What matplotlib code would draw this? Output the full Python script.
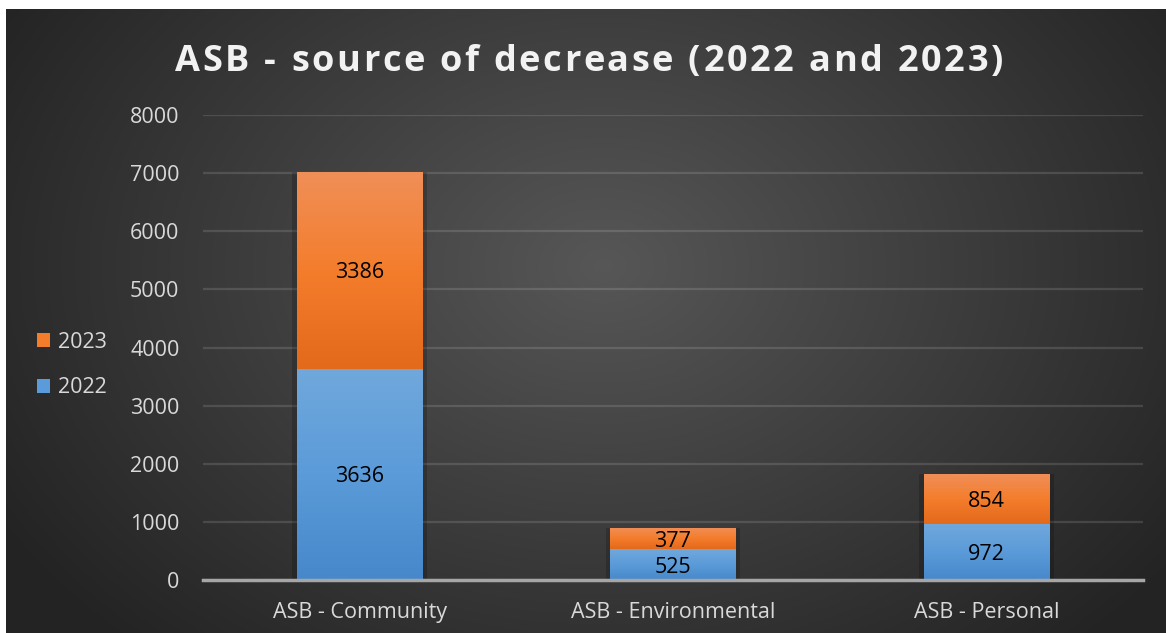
import matplotlib

matplotlib.use("Agg")
import matplotlib.pyplot as plt
import numpy as np
from matplotlib.colors import LinearSegmentedColormap
from matplotlib.patches import Patch

categories = ["ASB - Community", "ASB - Environmental", "ASB - Personal"]
values_2022 = [3636, 525, 972]
values_2023 = [3386, 377, 854]
y_ticks = [0, 1000, 2000, 3000, 4000, 5000, 6000, 7000, 8000]
title = "ASB - source of decrease (2022 and 2023)"

W, H = 1166, 633
TEXT = "#d9d9d9"
FONT = "Open Sans"

orange_cmap = LinearSegmentedColormap.from_list("o", ["#e3691b", "#f47d2c", "#f08f58"])
blue_cmap = LinearSegmentedColormap.from_list("b", ["#4688cb", "#5b9bd9", "#70a8dc"])


def gradient_bar(ax, x, bottom, height, width, cmap):
    ax.bar(x, height, width=width + 0.03, bottom=bottom, color="black", alpha=0.18, zorder=2)
    bar = ax.bar(x, height, width=width, bottom=bottom, color="none", zorder=3)[0]
    grad = np.linspace(0, 1, 256).reshape(-1, 1)
    im = ax.imshow(grad, cmap=cmap, origin="lower", aspect="auto",
                   extent=[x - width / 2, x + width / 2, bottom, bottom + height], zorder=3)
    im.set_clip_path(bar)


def spaced_title(fig, text, x_left, x_right, y, **kw):
    # draw char by char so the title gets the wide letter spacing of the original
    renderer = fig.canvas.get_renderer()

    def width(s):
        if not s:
            return 0.0
        t = fig.text(0, 0, s.replace(" ", "\u00a0"), **kw)
        w = t.get_window_extent(renderer).width
        t.remove()
        return w

    full = width(text)
    gap = (x_right - x_left - full) / (len(text) - 1)
    for i, ch in enumerate(text):
        if ch == " ":
            continue
        px = x_left + width(text[:i]) + i * gap
        fig.text(px / W, y, ch, ha="left", va="center", **kw)


fig = plt.figure(figsize=(W / 100, H / 100), dpi=100)
fig.patch.set_facecolor("white")

# dark radial background
bg = fig.add_axes([6 / W, 0, 1 - 6 / W, 1 - 9 / H])
yy, xx = np.mgrid[0:H, 0:W]
d = np.sqrt(((xx - 600) / 700.0) ** 2 + ((yy - 260) / 520.0) ** 2)
shade = np.clip(0.34 - 0.20 * d, 0.14, 0.34)
bg.imshow(np.dstack([shade] * 3), aspect="auto", extent=[0, 1, 0, 1])
bg.axis("off")

ax = fig.add_axes([203 / W, 53 / H, 940 / W, 465 / H])
ax.set_facecolor("none")
x = np.arange(len(categories))
width = 0.40
for i in x:
    gradient_bar(ax, i, 0, values_2022[i], width, blue_cmap)
    gradient_bar(ax, i, values_2022[i], values_2023[i], width, orange_cmap)
    ax.text(i, values_2022[i] / 2, str(values_2022[i]), ha="center", va="center_baseline",
            fontsize=15.5, color="black", family=FONT, zorder=5)
    ax.text(i, values_2022[i] + values_2023[i] / 2, str(values_2023[i]), ha="center",
            va="center_baseline", fontsize=15.5, color="black", family=FONT, zorder=5)

ax.set_xlim(-0.5, 2.5)
ax.set_ylim(0, 8000)
ax.set_yticks(y_ticks)
ax.set_yticklabels([str(t) for t in y_ticks], family=FONT, fontsize=15.5, color=TEXT)
ax.set_xticks(x)
ax.set_xticklabels(categories, family=FONT, fontsize=15.5, color=TEXT)
ax.tick_params(length=0)
ax.tick_params(axis="y", pad=17)
ax.tick_params(axis="x", pad=16)
ax.grid(axis="y", color="white", alpha=0.13, linewidth=1.6)
ax.set_axisbelow(True)
for s in ["top", "right", "left"]:
    ax.spines[s].set_visible(False)
ax.spines["bottom"].set_color("#a6a6a6")
ax.spines["bottom"].set_linewidth(2.5)
ax.spines["bottom"].set_zorder(4)

handles = [Patch(facecolor="#f47d2c"), Patch(facecolor="#5b9bd9")]
fig.legend(handles, ["2023", "2022"], loc="center left", bbox_to_anchor=(18 / W, 1 - 365 / H),
           frameon=False, prop={"family": FONT, "size": 15.5}, labelcolor=TEXT,
           handlelength=0.6, handleheight=0.6, handletextpad=0.35, labelspacing=1.15)

spaced_title(fig, title, 175, 1003, 1 - 62 / H,
             fontsize=26, fontweight="bold", color="#f2f2f2", family=FONT)

fig.savefig("out.png", dpi=100)
